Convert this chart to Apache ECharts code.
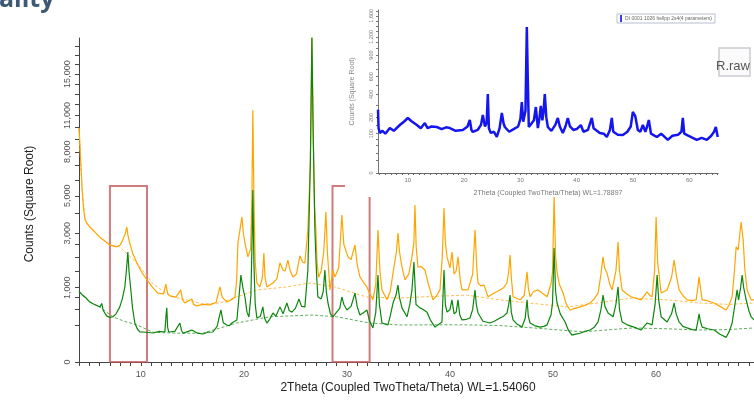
<!DOCTYPE html>
<html>
<head>
<meta charset="utf-8">
<script src="https://cdn.jsdelivr.net/npm/echarts@6/dist/echarts.min.js"></script>
<style>
  html, body { margin: 0; padding: 0; background: #fff; }
  #chart { width: 754px; height: 402px; }
</style>
</head>
<body>
<div id="chart"></div>
<script>
// main pattern (Cu, WL=1.54060): [2theta, counts]
const orangeScan = [
  [4.0, 9900], [4.05, 9200], [4.12, 8000], [4.22, 6500], [4.3, 5400], [4.45, 4200], [4.6, 3650], [4.8, 3450],
  [5.05, 3300], [5.5, 3080], [6.0, 2830], [6.5, 2650], [7.0, 2480], [7.4, 2430], [7.67, 2400], [8.0, 2480],
  [8.25, 2700], [8.5, 3000], [8.64, 3300], [8.75, 2900], [8.93, 2560], [9.2, 2150], [9.6, 1780], [10.1, 1450],
  [10.6, 1220], [11.1, 1020], [11.65, 860], [12.2, 840], [12.43, 1100], [12.6, 850], [12.82, 790], [13.4, 760],
  [13.88, 940], [14.05, 700], [14.27, 630], [14.95, 720], [15.1, 600], [15.44, 570], [16.0, 600], [16.7, 590],
  [17.3, 640], [17.67, 1020], [17.9, 760], [18.35, 650], [18.8, 700], [19.13, 765], [19.3, 1200], [19.42, 2560],
  [19.6, 3100], [19.81, 3810], [19.95, 3000], [20.1, 2560], [20.39, 2000], [20.65, 2300], [20.78, 5000], [20.87, 11500],
  [20.97, 5000], [21.1, 1800], [21.26, 1130], [21.55, 1020], [21.8, 1300], [21.94, 2150], [22.05, 1300], [22.23, 1020],
  [22.82, 1130], [23.2, 1250], [23.5, 1780], [23.79, 1530], [24.0, 1500], [24.27, 1880], [24.5, 1500], [24.76, 1310],
  [25.1, 1400], [25.44, 2040], [25.7, 1800], [25.92, 1780], [26.21, 3150], [26.45, 7170], [26.6, 19100], [26.72, 9700],
  [26.85, 4500], [26.99, 3150], [27.1, 1800], [27.25, 1300], [27.5, 1500], [27.75, 2200], [27.96, 4070], [28.1, 2200],
  [28.35, 940], [28.64, 1530], [28.83, 1310], [29.2, 1600], [29.35, 2600], [29.51, 3910], [29.7, 2500], [30.1, 2000],
  [30.4, 1900], [30.6, 2200], [30.78, 2480], [31.0, 1700], [31.26, 1310], [31.6, 1150], [31.94, 1020], [32.2, 850],
  [32.52, 700], [32.8, 1100], [33.01, 3150], [33.2, 1500], [33.4, 940], [33.88, 700], [34.2, 900], [34.47, 1430],
  [34.8, 2200], [34.95, 3010], [35.1, 2200], [35.34, 1630], [35.63, 1220], [36.0, 1400], [36.31, 2000], [36.5, 2600],
  [36.6, 4460], [36.72, 2400], [36.89, 1630], [37.2, 1650], [37.57, 1530], [37.9, 1100], [38.35, 700], [38.7, 800],
  [39.03, 940], [39.25, 2000], [39.42, 4290], [39.55, 2600], [39.71, 2000], [40.0, 1600], [40.19, 2190], [40.4, 1400],
  [40.6, 1500], [40.78, 2000], [41.0, 1200], [41.17, 940], [41.75, 940], [42.2, 1400], [42.43, 3150], [42.6, 1600],
  [42.72, 1130], [43.0, 1050], [43.3, 1070], [43.69, 770], [44.2, 850], [44.85, 940], [45.2, 1000], [45.53, 1130],
  [45.7, 1500], [45.83, 2070], [45.95, 1300], [46.12, 770], [46.8, 700], [47.2, 800], [47.48, 1470], [47.6, 1000],
  [47.77, 770], [48.1, 900], [48.54, 940], [49.0, 850], [49.42, 770], [49.8, 1100], [49.95, 1470], [50.1, 4930],
  [50.25, 2000], [50.39, 1470], [50.6, 1100], [50.97, 860], [51.3, 600], [51.65, 490], [52.1, 520], [52.62, 550],
  [53.1, 580], [53.59, 630], [54.0, 720], [54.37, 860], [54.65, 1400], [54.85, 2000], [55.0, 1600], [55.24, 1430],
  [55.5, 1100], [55.73, 940], [56.1, 1500], [56.31, 2610], [56.45, 1500], [56.7, 940], [57.1, 850], [57.57, 770],
  [58.0, 740], [58.54, 700], [59.13, 890], [59.4, 800], [59.61, 770], [59.85, 1500], [60.0, 3810], [60.15, 1800],
  [60.49, 860], [61.07, 940], [61.5, 1300], [61.75, 1880], [61.95, 1400], [62.23, 940], [62.6, 800], [63.01, 700],
  [63.5, 680], [63.88, 700], [64.05, 1000], [64.17, 1310], [64.3, 1000], [64.47, 700], [65.0, 680], [65.63, 630],
  [66.2, 560], [66.8, 490], [67.1, 600], [67.38, 770], [67.6, 1500], [67.77, 2400], [67.96, 2270], [68.25, 3550],
  [68.45, 2700], [68.6, 1600], [68.83, 940], [69.22, 700], [69.5, 700]
]

const greenScan = [
  [4.0, 900], [4.3, 820], [4.7, 740], [5.05, 650], [5.5, 600], [6.02, 550], [6.21, 620], [6.35, 480],
  [6.7, 380], [7.0, 360], [7.28, 370], [7.6, 420], [7.96, 550], [8.2, 720], [8.45, 1020], [8.62, 1600],
  [8.74, 2190], [8.85, 1500], [9.03, 940], [9.2, 520], [9.42, 275], [9.65, 200], [9.9, 165], [10.5, 160],
  [11.17, 152], [11.8, 170], [12.33, 163], [12.45, 400], [12.52, 530], [12.6, 220], [12.7, 163], [13.3, 170],
  [13.79, 275], [13.95, 180], [14.1, 150], [14.6, 170], [14.95, 185], [15.5, 150], [16.02, 142], [16.5, 160],
  [16.99, 163], [17.4, 230], [17.77, 490], [18.0, 280], [18.35, 248], [18.6, 240], [18.83, 275], [19.0, 250],
  [19.32, 320], [19.5, 700], [19.71, 1370], [19.9, 1000], [20.1, 765], [20.3, 450], [20.49, 367], [20.68, 800],
  [20.78, 2400], [20.87, 5360], [20.97, 1780], [21.1, 600], [21.26, 350], [21.6, 380], [21.84, 550], [22.0, 350],
  [22.23, 275], [22.5, 330], [22.82, 435], [23.1, 380], [23.5, 550], [23.8, 420], [24.17, 630], [24.4, 480],
  [24.66, 450], [25.0, 520], [25.34, 720], [25.6, 560], [25.92, 550], [26.21, 1530], [26.45, 7170], [26.6, 19100],
  [26.72, 9700], [26.89, 3150], [27.05, 1400], [27.18, 765], [27.5, 720], [27.7, 900], [27.86, 1530], [28.0, 900],
  [28.16, 630], [28.4, 420], [28.64, 370], [29.0, 450], [29.3, 520], [29.51, 765], [29.7, 600], [30.0, 490],
  [30.4, 560], [30.78, 860], [31.0, 550], [31.26, 400], [31.6, 440], [31.94, 490], [32.2, 300], [32.52, 210],
  [32.8, 450], [33.01, 1370], [33.15, 600], [33.4, 275], [33.98, 250], [34.2, 380], [34.47, 630], [34.75, 800],
  [34.95, 1070], [35.1, 750], [35.34, 530], [35.83, 370], [36.1, 600], [36.31, 940], [36.5, 1810], [36.7, 600],
  [37.09, 530], [37.4, 500], [37.77, 450], [38.1, 320], [38.54, 220], [39.22, 290], [39.42, 1530], [39.55, 600],
  [39.71, 450], [40.0, 500], [40.19, 700], [40.4, 420], [40.6, 450], [40.78, 700], [40.95, 400], [41.17, 320],
  [41.6, 330], [41.94, 350], [42.2, 500], [42.43, 940], [42.55, 600], [42.72, 435], [43.2, 300], [43.5, 290],
  [43.88, 275], [44.3, 300], [44.85, 350], [45.2, 380], [45.53, 435], [45.7, 600], [45.83, 810], [45.95, 450],
  [46.12, 320], [46.5, 260], [46.99, 220], [47.3, 350], [47.48, 700], [47.6, 380], [47.77, 275], [48.2, 240],
  [48.74, 220], [49.1, 230], [49.42, 250], [49.8, 400], [49.95, 630], [50.1, 2350], [50.25, 900], [50.39, 630],
  [50.7, 420], [51.17, 290], [51.5, 180], [51.84, 130], [52.2, 140], [52.62, 150], [53.1, 170], [53.59, 185],
  [54.0, 220], [54.37, 290], [54.65, 500], [54.85, 810], [55.05, 550], [55.34, 435], [55.83, 370], [56.1, 600],
  [56.31, 1020], [56.45, 500], [56.7, 290], [57.2, 250], [57.86, 220], [58.54, 185], [58.9, 240], [59.13, 275],
  [59.61, 250], [59.9, 600], [60.1, 1370], [60.25, 700], [60.49, 370], [61.07, 290], [61.5, 420], [61.75, 630],
  [61.95, 420], [62.23, 290], [62.6, 230], [63.01, 210], [63.5, 190], [63.88, 185], [64.05, 300], [64.17, 420],
  [64.3, 300], [64.47, 220], [65.0, 200], [65.63, 185], [66.2, 140], [66.8, 110], [67.1, 170], [67.38, 275],
  [67.65, 600], [67.86, 940], [68.0, 700], [68.2, 1000], [68.35, 1370], [68.5, 1000], [68.74, 700], [69.0, 480],
  [69.22, 370], [69.5, 320]
]

// fitted backgrounds (dashed)
const orangeBackground = [
  [4.0, 9900], [4.12, 8000], [4.3, 5400], [4.6, 3650], [5.05, 3300], [6.0, 2830], [7.0, 2480], [7.96, 2400],
  [9.6, 1780], [11.2, 1100], [12.82, 790], [16.0, 610], [17.67, 630], [19.3, 765], [21.3, 940], [24.2, 1020],
  [26.4, 1130], [28.8, 1020], [31.9, 765], [35.1, 740], [38.4, 780], [41.6, 810], [44.8, 700], [48.1, 620],
  [51.4, 550], [54.6, 640], [57.7, 740], [61.0, 700], [64.2, 630], [67.0, 600], [69.5, 630]
]

const greenBackground = [
  [4.0, 900], [4.3, 820], [5.05, 650], [6.02, 550], [7.28, 370], [8.4, 300], [9.6, 250], [11.2, 160],
  [13.5, 150], [16.0, 150], [19.3, 275], [22.5, 370], [26.6, 400], [29.0, 370], [32.2, 275], [35.1, 248],
  [38.4, 250], [41.6, 250], [44.8, 240], [48.1, 210], [52.9, 165], [57.7, 210], [61.0, 200], [64.2, 185],
  [67.0, 190], [69.5, 210]
]

// highlighted regions: [from 2theta, to 2theta, top counts]
const boxes = [[7.0, 10.6, 5600], [28.6, 32.2, 5600]]

// inset pattern (Co, WL=1.78897)
const blueScan = [
  [4.7, 260], [4.8, 130], [5.03, 104], [5.5, 115], [6.0, 100], [6.8, 131], [7.5, 115], [8.58, 149],
  [9.3, 170], [10.0, 196], [10.6, 175], [11.6, 149], [12.3, 130], [13.02, 162], [13.5, 130], [14.2, 140],
  [15.15, 137], [16.0, 125], [16.8, 135], [17.46, 131], [18.5, 115], [19.77, 120], [20.6, 140], [21.01, 182],
  [21.3, 120], [21.55, 109], [22.4, 120], [23.0, 150], [23.32, 218], [23.7, 140], [24.0, 160], [24.21, 404],
  [24.4, 130], [24.74, 104], [25.3, 110], [25.81, 84], [26.3, 130], [26.7, 233], [27.0, 160], [27.23, 137],
  [28.0, 110], [28.8, 125], [29.6, 140], [30.0, 190], [30.25, 326], [30.5, 170], [30.9, 250], [31.14, 1380],
  [31.3, 600], [31.49, 137], [32.0, 160], [32.4, 180], [32.74, 282], [33.1, 131], [33.4, 200], [33.62, 291],
  [33.9, 180], [34.1, 240], [34.33, 404], [34.6, 200], [34.87, 137], [35.5, 115], [36.2, 150], [36.64, 196],
  [37.0, 140], [37.53, 104], [38.0, 140], [38.42, 196], [38.8, 140], [39.4, 120], [40.0, 125], [40.73, 149],
  [41.2, 110], [42.0, 120], [42.68, 196], [43.0, 130], [44.1, 104], [44.8, 100], [45.35, 84], [45.9, 120],
  [46.23, 196], [46.5, 110], [47.3, 95], [48.19, 93], [49.0, 110], [49.6, 140], [49.97, 241], [50.4, 210],
  [50.86, 120], [51.3, 110], [51.75, 149], [52.2, 110], [52.5, 140], [52.81, 182], [53.2, 100], [54.23, 84],
  [55.0, 100], [56.18, 71], [57.0, 90], [58.0, 95], [58.6, 110], [58.85, 196], [59.1, 100], [59.8, 90],
  [61.33, 71], [62.2, 80], [63.11, 71], [63.9, 90], [64.4, 110], [64.71, 137], [65.06, 84]
]

const mainXLabels = [10, 20, 30, 40, 50, 60]
const mainYLabels = [0, 1000, 3000, 5000, 8000, 11000, 15000]
const mainYTicks = [0, 250, 500, 750, 1000, 1500, 2000, 2500, 3000, 4000, 5000, 6000, 7000, 8000, 9000, 10000,
  11000, 12000, 13000, 14000, 15000, 16000, 17000, 18000]
const insetXLabels = [10, 20, 30, 40, 50, 60]
const insetYLabels = [0, 100, 200, 400, 600, 900, 1200, 1600]
const insetYTicks = [0, 10, 25, 50, 75, 100, 150, 200, 300, 400, 500, 600, 700, 800, 900, 1000, 1100, 1200, 1300, 1400, 1500, 1600, 1700]

const sq = v => Math.sqrt(v)
const toSqrt = arr => arr.map(p => [p[0], Math.sqrt(p[1])])
const range = (a, b) => { const r = []; for (let i = a; i <= b; i++) r.push(i); return r }
const fmtCount = v => Math.round(v * v).toLocaleString('en-US')

const chart = echarts.init(document.getElementById('chart'))

const FONT = 'Liberation Sans'

const option = {
  animation: false,
  backgroundColor: '#ffffff',
  textStyle: { fontFamily: FONT },
  grid: [
    { left: 79, top: 38, width: 675, height: 324 },
    { left: 378, top: 10, width: 340, height: 163 }
  ],
  xAxis: [
    {
      type: 'value', gridIndex: 0, min: 4, max: 69.5,
      splitLine: { show: false },
      axisLine: { lineStyle: { color: '#444', width: 1 } },
      axisTick: { customValues: range(4, 69), length: 4, lineStyle: { color: '#444' } },
      axisLabel: { customValues: mainXLabels, fontSize: 9, color: '#555', margin: 8 }
    },
    {
      type: 'value', gridIndex: 1, min: 4.7, max: 65.1, z: 10,
      name: '2Theta (Coupled TwoTheta/Theta) WL=1.78897',
      nameLocation: 'middle', nameGap: 17,
      nameTextStyle: { fontSize: 7, color: '#777' },
      splitLine: { show: false },
      axisLine: { lineStyle: { color: '#666', width: 1 } },
      axisTick: { customValues: range(5, 65), length: 2, lineStyle: { color: '#666' } },
      axisLabel: { customValues: insetXLabels, fontSize: 6, color: '#777', margin: 4 }
    }
  ],
  yAxis: [
    {
      type: 'value', gridIndex: 0, min: 0, max: sq(19000),
      splitLine: { show: false },
      axisLine: { show: true, lineStyle: { color: '#444', width: 1 } },
      axisTick: { customValues: mainYTicks.map(sq), length: 4, lineStyle: { color: '#444' } },
      axisLabel: {
        customValues: mainYLabels.map(sq), rotate: 90, fontSize: 9, color: '#555', margin: 7,
        formatter: fmtCount
      }
    },
    {
      type: 'value', gridIndex: 1, min: 0, max: sq(1720), z: 10,
      name: 'Counts (Square Root)',
      nameLocation: 'middle', nameGap: 22,
      nameTextStyle: { fontSize: 7, color: '#888' },
      splitLine: { show: false },
      axisLine: { show: true, lineStyle: { color: '#777', width: 1 } },
      axisTick: { customValues: insetYTicks.map(sq), length: 2, lineStyle: { color: '#777' } },
      axisLabel: {
        customValues: insetYLabels.map(sq), rotate: 90, fontSize: 5.5, color: '#777', margin: 4,
        formatter: fmtCount
      }
    }
  ],
  graphic: [
    {
      type: 'text', z: 20, left: -1, top: -13,
      style: { text: 'ality', font: 'bold 25px "Open Sans"', fill: '#3e5975' }
    },
    {
      type: 'text', z: 20, x: 30, y: 204, rotation: Math.PI / 2,
      style: { text: 'Counts (Square Root)', font: '12px "Liberation Sans"', fill: '#222', align: 'center', verticalAlign: 'middle' }
    },
    {
      type: 'text', z: 20, x: 408, y: 388,
      style: { text: '2Theta (Coupled TwoTheta/Theta) WL=1.54060', font: '12px "Liberation Sans"', fill: '#222', align: 'center', verticalAlign: 'middle' }
    },
    // white panel of the pasted inset picture
    {
      type: 'rect', z: 5, shape: { x: 345, y: 0, width: 409, height: 197 },
      style: { fill: '#ffffff' }
    },
    {
      type: 'rect', z: 11, shape: { x: 617, y: 14, width: 98, height: 9 },
      style: { fill: '#ffffff', stroke: '#b8bcd0', lineWidth: 1 }
    },
    {
      type: 'rect', z: 12, shape: { x: 620, y: 15, width: 2, height: 7 },
      style: { fill: '#3b3bf0' }
    },
    {
      type: 'text', z: 12, x: 625, y: 18.5,
      style: { text: 'DI 0001 1026 hellpp 2s4(4 parameters)', font: '5px "Liberation Sans"', fill: '#666', verticalAlign: 'middle' }
    },
    {
      type: 'rect', z: 11, shape: { x: 719, y: 48, width: 31, height: 28 },
      style: { fill: '#fbfbfb', stroke: '#c9ccd0', lineWidth: 1.5 }
    },
    {
      type: 'text', z: 12, x: 716, y: 66,
      style: { text: 'R.raw', font: '13px "Liberation Sans"', fill: '#555', verticalAlign: 'middle' }
    }
  ],
  series: [
    {
      type: 'line', xAxisIndex: 0, yAxisIndex: 0, z: 2, showSymbol: false, silent: true,
      data: toSqrt(orangeBackground),
      lineStyle: { color: '#ffbe55', width: 1, type: [3, 2] }
    },
    {
      type: 'line', xAxisIndex: 0, yAxisIndex: 0, z: 2, showSymbol: false, silent: true,
      data: toSqrt(greenBackground),
      lineStyle: { color: '#5fae5f', width: 1, type: [3, 2] }
    },
    {
      type: 'line', xAxisIndex: 0, yAxisIndex: 0, z: 3, showSymbol: false, silent: true,
      data: toSqrt(orangeScan),
      lineStyle: { color: '#ffa500', width: 1.2 }
    },
    {
      type: 'line', xAxisIndex: 0, yAxisIndex: 0, z: 3, showSymbol: false, silent: true,
      data: toSqrt(greenScan),
      lineStyle: { color: '#0c860c', width: 1.2 },
      markArea: {
        silent: true,
        itemStyle: { color: 'rgba(0,0,0,0)', borderColor: 'rgba(190,80,80,0.75)', borderWidth: 2 },
        data: boxes.map(b => [{ coord: [b[0], 0] }, { coord: [b[1], sq(b[2])] }])
      }
    },
    {
      type: 'line', xAxisIndex: 1, yAxisIndex: 1, z: 10, showSymbol: false, silent: true,
      data: toSqrt(blueScan),
      lineStyle: { color: '#1515ee', width: 2.5 }
    }
  ]
}

chart.setOption(option)
</script>
</body>
</html>
